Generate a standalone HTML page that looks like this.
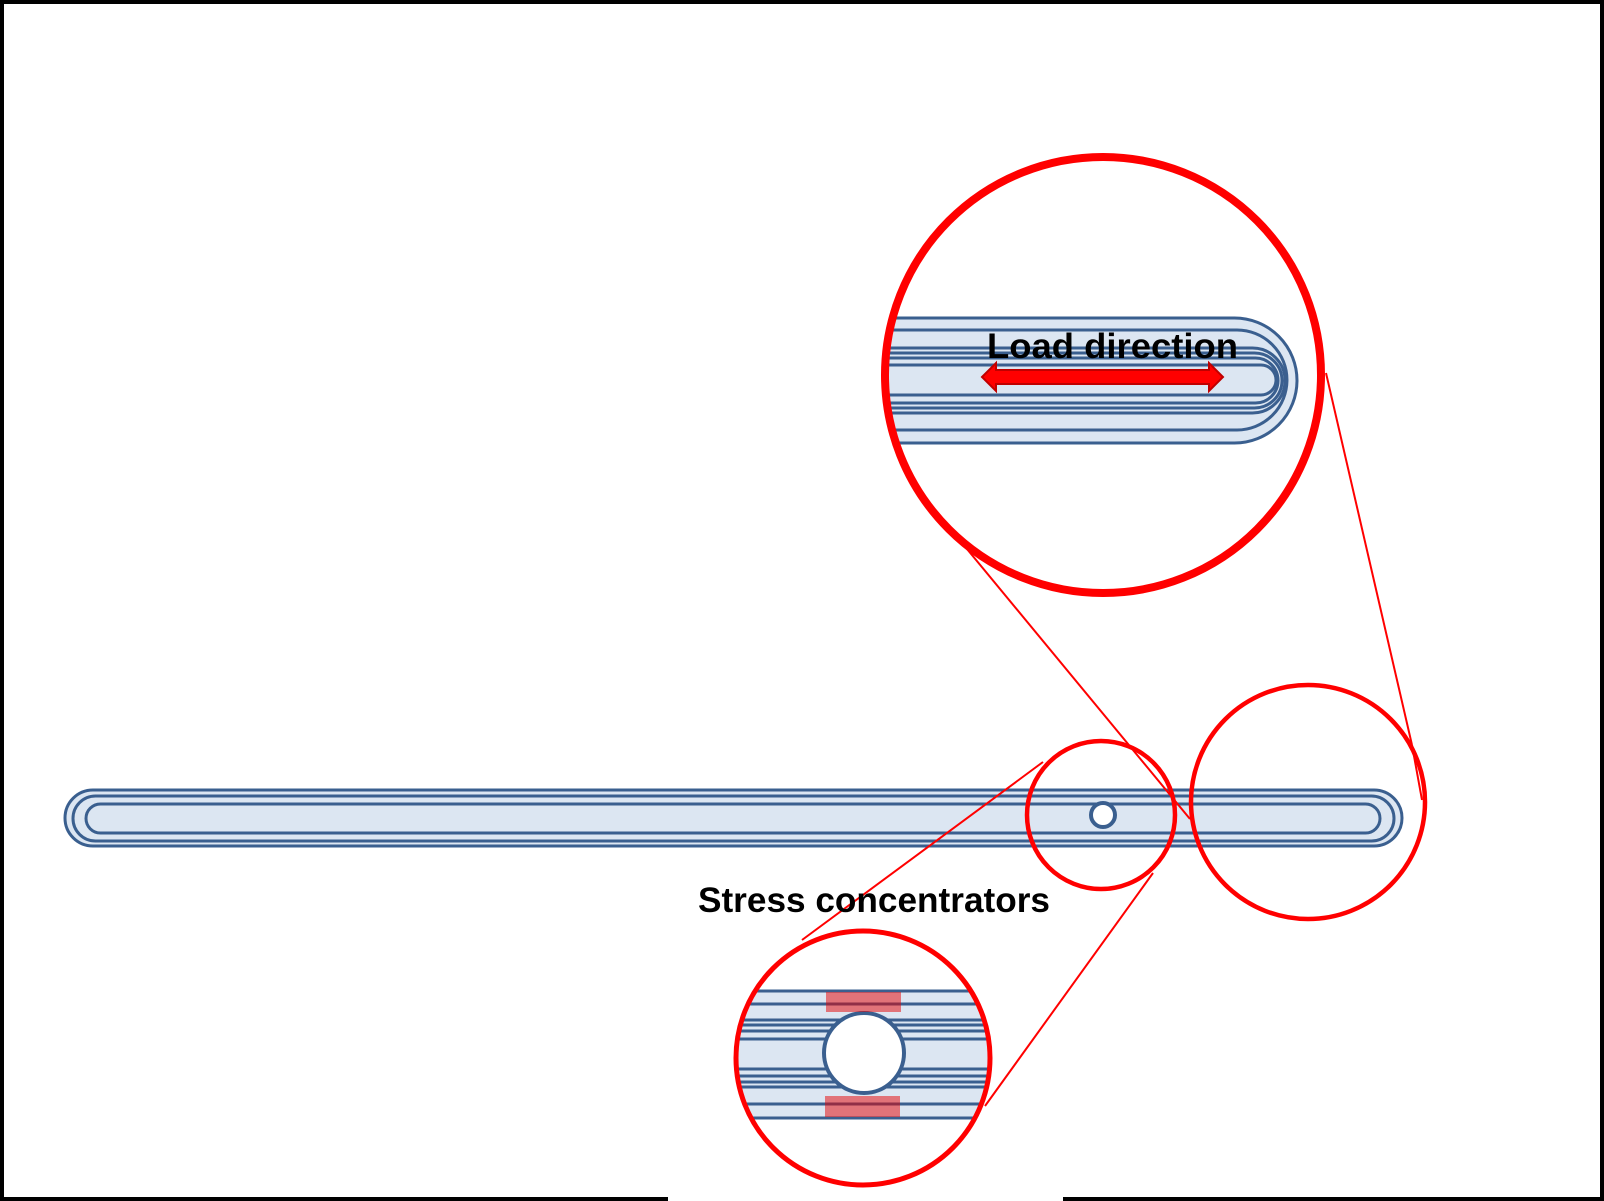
<!DOCTYPE html>
<html><head><meta charset="utf-8"><style>html,body{margin:0;padding:0;background:#fff}svg{display:block}</style></head>
<body>
<svg width="1604" height="1201" viewBox="0 0 1604 1201" xmlns="http://www.w3.org/2000/svg">
<defs>
<clipPath id="ct"><circle cx="1103" cy="375" r="218"/></clipPath>
<clipPath id="cb"><circle cx="863" cy="1058" r="127"/></clipPath>
</defs>
<rect width="1604" height="1201" fill="#fff"/>
<!-- border -->
<rect x="0" y="0" width="1604" height="4" fill="#000"/>
<rect x="0" y="0" width="4" height="1201" fill="#000"/>
<rect x="1600" y="0" width="4" height="1201" fill="#000"/>
<rect x="0" y="1197" width="668" height="4" fill="#000"/>
<rect x="1063" y="1197" width="541" height="4" fill="#000"/>

<!-- main bar -->
<g fill="#dce6f2" stroke="#3a5f8f" stroke-width="3">
<rect x="65" y="790" width="1337" height="56" rx="28"/>
<rect x="73" y="796" width="1321" height="45" rx="22.5" fill="none"/>
<rect x="86" y="804" width="1294" height="29" rx="14.5" fill="none"/>
</g>
<circle cx="1103" cy="815" r="12" fill="#fff" stroke="#3a5f8f" stroke-width="4"/>

<!-- connector lines -->
<g stroke="#f00" stroke-width="2" fill="none">
<line x1="967" y1="549" x2="1190" y2="819"/>
<line x1="1326" y1="373" x2="1412" y2="745"/>
<line x1="1412" y1="745" x2="1422" y2="800"/>
<line x1="1043" y1="762" x2="802" y2="940"/>
<line x1="1153" y1="873" x2="985" y2="1106"/>
</g>

<!-- small circles on bar -->
<g fill="none" stroke="#f00" stroke-width="4.5">
<circle cx="1101" cy="815" r="74"/>
<circle cx="1308" cy="802" r="117"/>
</g>

<!-- top zoom circle content -->
<g clip-path="url(#ct)" stroke="#3a5f8f" stroke-width="3">
<path d="M870 318 H1234.5 A62.5 62.5 0 0 1 1234.5 443 H870 Z" fill="#dce6f2"/>
<g fill="none">
<path d="M870 330 H1237 A50 50 0 0 1 1237 430 H870"/>
<path d="M870 348 H1252.5 A32.5 32.5 0 0 1 1252.5 413 H870"/>
<path d="M870 353 H1254.5 A27.5 27.5 0 0 1 1254.5 408 H870"/>
<path d="M870 358 H1255.5 A22.5 22.5 0 0 1 1255.5 403 H870"/>
<path d="M870 365 H1261 A15 15 0 0 1 1261 395 H870"/>
</g>
</g>
<!-- arrow -->
<path d="M982 377 L996 363 L996 370 L1209 370 L1209 363 L1223 377 L1209 391 L1209 384 L996 384 L996 391 Z" fill="#f00" stroke="#c00000" stroke-width="2"/>
<text x="987" y="358" font-family="Liberation Sans, sans-serif" font-weight="bold" font-size="35" textLength="251" lengthAdjust="spacingAndGlyphs" fill="#000">Load direction</text>
<circle cx="1103" cy="375" r="218" fill="none" stroke="#f00" stroke-width="8"/>

<!-- bottom zoom circle content -->
<g clip-path="url(#cb)">
<rect x="700" y="991" width="330" height="127" fill="#dce6f2"/>
<g stroke="#3a5f8f" stroke-width="3">
<line x1="700" y1="991" x2="1030" y2="991"/>
<line x1="700" y1="1004" x2="1030" y2="1004"/>
<line x1="700" y1="1020" x2="1030" y2="1020"/>
<line x1="700" y1="1025" x2="1030" y2="1025"/>
<line x1="700" y1="1031" x2="1030" y2="1031"/>
<line x1="700" y1="1039" x2="1030" y2="1039"/>
<line x1="700" y1="1069" x2="1030" y2="1069"/>
<line x1="700" y1="1076" x2="1030" y2="1076"/>
<line x1="700" y1="1082" x2="1030" y2="1082"/>
<line x1="700" y1="1087" x2="1030" y2="1087"/>
<line x1="700" y1="1104" x2="1030" y2="1104"/>
<line x1="700" y1="1118" x2="1030" y2="1118"/>
</g>
</g>
<circle cx="864" cy="1053" r="40" fill="#fff" stroke="#3a5f8f" stroke-width="4"/>
<rect x="826" y="992" width="75" height="20" fill="#e60000" fill-opacity="0.5"/>
<rect x="825" y="1096" width="75" height="21" fill="#e60000" fill-opacity="0.5"/>
<circle cx="863" cy="1058" r="127" fill="none" stroke="#f00" stroke-width="5"/>

<text x="698" y="912" font-family="Liberation Sans, sans-serif" font-weight="bold" font-size="35" textLength="352" lengthAdjust="spacingAndGlyphs" fill="#000">Stress concentrators</text>
</svg>
</body></html>
